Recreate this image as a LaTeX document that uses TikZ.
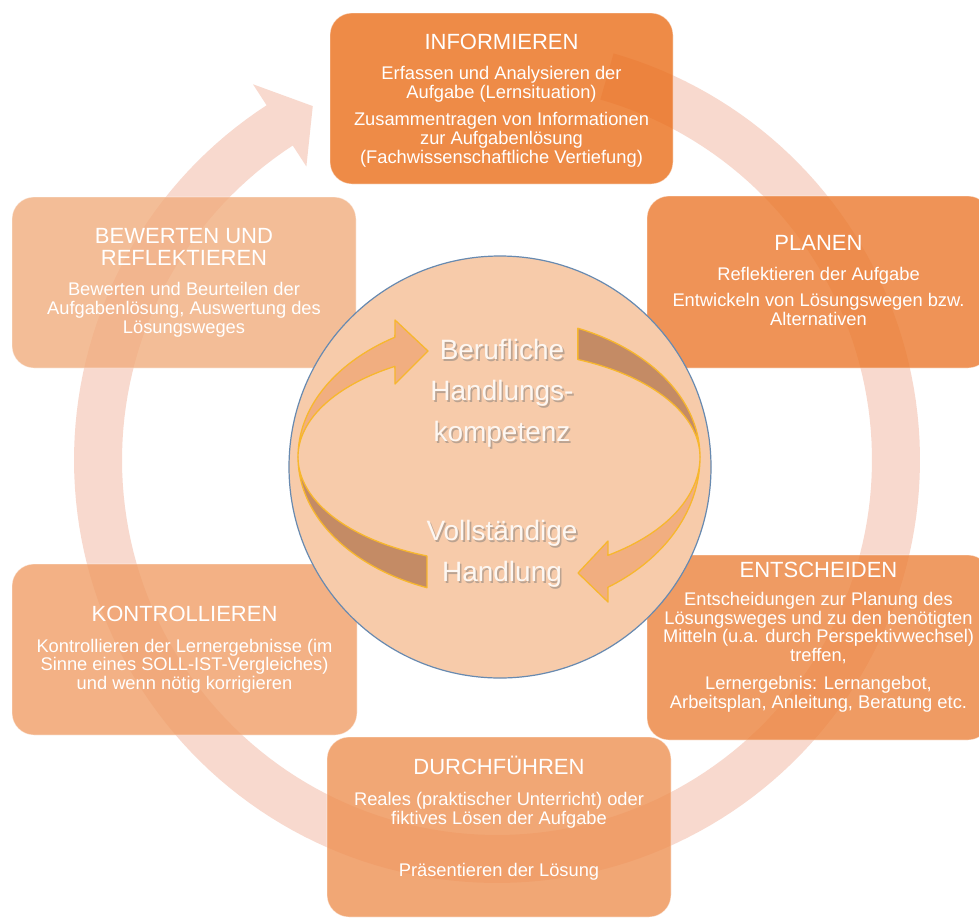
\documentclass[tikz,border=0pt]{standalone}
\usepackage{fontspec}
\setmainfont{Liberation Sans}

% cycle colours (box fills are partly transparent over the ring)
\definecolor{ringc}{RGB}{248,217,206}
\definecolor{cinf}{RGB}{234,110,26}
\definecolor{cpla}{RGB}{235,121,45}
\definecolor{cent}{RGB}{236,131,61}
\definecolor{cdur}{RGB}{238,145,83}
\definecolor{ckon}{RGB}{240,158,103}
\definecolor{cbew}{RGB}{241,173,126}
% centre disc and its twisted ribbon
\definecolor{discfill}{RGB}{247,203,170}
\definecolor{discline}{RGB}{104,138,176}
\definecolor{ribbonfront}{RGB}{241,174,128}
\definecolor{ribbonback}{RGB}{196,139,101}
\definecolor{ribbonedge}{RGB}{247,183,46}
\definecolor{disctext}{RGB}{253,247,242}

\newcommand{\titlefont}{\fontsize{22}{22}\selectfont}

\begin{document}
\begin{tikzpicture}[x=1pt,y=-1pt,
  stage/.style={rounded corners=22pt, fill opacity=0.8, draw=white,
    draw opacity=0.45, line width=0.8pt, inner sep=0pt},
  % multi-line labels are placed by the baseline of their last line
  stagetext/.style={text=white, align=center, anchor=base, inner sep=0pt,
    font=\fontsize{18.3}{18.6}\selectfont},
  ribbon/.style={draw=ribbonedge, line width=1.3pt, line join=round},
  disclabel/.style={text=disctext, align=center, anchor=base, inner sep=0pt},
  discshadow/.style={text=black!55, text opacity=0.45, align=center, anchor=base, inner sep=0pt},
]
\useasboundingbox (0,0) rectangle (979,919);
\fill[white] (0,0) rectangle (979,919);
\clip (0,0) rectangle (979,919);

% large cycle arrow around the stages (clockwise, head at the upper left)
\fill[ringc]
  plot[domain=74:-237, samples=180, variable=\t] ({497+423*cos(\t)},{460-423*sin(\t)})
  -- ({497+448*cos(-237)},{460-448*sin(-237)})
  -- ({497+399*cos(-242.5)},{460-399*sin(-242.5)})
  -- ({497+350*cos(-237)},{460-350*sin(-237)})
  -- plot[domain=-237:74, samples=180, variable=\t] ({497+375*cos(\t)},{460-375*sin(\t)})
  -- cycle;

% the six stages
\node[stage, fill=cinf, minimum width=343pt, minimum height=171pt] (inf) at (501.5,98.5) {};
\node[stage, fill=cpla, minimum width=343pt, minimum height=172pt] (pla) at (818.5,282) {};
\node[stage, fill=cent, minimum width=343pt, minimum height=185pt] (ent) at (818.5,647.5) {};
\node[stage, fill=cdur, minimum width=344pt, minimum height=180pt] (dur) at (499,827) {};
\node[stage, fill=ckon, minimum width=345pt, minimum height=171pt] (kon) at (184.5,649.5) {};
\node[stage, fill=cbew, minimum width=344pt, minimum height=171pt] (bew) at (184,282.5) {};

\node[stagetext] (infT) at (501.5,163) {{\titlefont INFORMIEREN}\\[11.4pt]
  Erfassen und Analysieren der\\ Aufgabe (Lernsituation)\\[9pt]
  Zusammentragen von Informationen\\ zur Aufgabenlösung\\
  (Fachwissenschaftliche Vertiefung)};
\node[stagetext] (plaT) at (818.5,325.5) {{\titlefont PLANEN}\\[11.4pt]
  Reflektieren der Aufgabe\\[8pt]
  Entwickeln von Lösungswegen bzw.\\ Alternativen};
\node[stagetext] (entT) at (818.5,708.3) {{\titlefont ENTSCHEIDEN}\\[9.7pt]
  Entscheidungen zur Planung des\\ Lösungsweges und zu den benötigten\\
  Mitteln (u.a. durch Perspektivwechsel)\\ treffen,\\[9.7pt]
  Lernergebnis: Lernangebot,\\ Arbeitsplan, Anleitung, Beratung etc.};
\node[stagetext] (durT) at (499,876.7) {{\titlefont DURCHFÜHREN}\\[12.4pt]
  Reales (praktischer Unterricht) oder\\ fiktives Lösen der Aufgabe\\[33.8pt]
  Präsentieren der Lösung};
\node[stagetext] (konT) at (184.5,689.3) {{\titlefont KONTROLLIEREN}\\[12.4pt]
  Kontrollieren der Lernergebnisse (im\\ Sinne eines SOLL-IST-Vergleiches)\\
  und wenn nötig korrigieren};
\node[stagetext] (bewT) at (184,333) {{\titlefont BEWERTEN UND}\\[4.1pt]
  {\titlefont REFLEKTIEREN}\\[11.4pt]
  Bewerten und Beurteilen der\\ Aufgabenlösung, Auswertung des\\ Lösungsweges};

% centre disc
\node[circle, fill=discfill, draw=discline, line width=1.2pt, minimum size=422pt, inner sep=0pt]
  (core) at (500,467) {};

% twisted ribbon: back pieces first
\filldraw[ribbon, fill=ribbonback]
  plot[domain=66.9:0, samples=60, variable=\t] ({499+201*cos(\t)},{457-140*sin(\t)})
  -- plot[domain=0:66.9, samples=60, variable=\t] ({499+201*cos(\t)},{457-106*sin(\t)})
  -- cycle;
\filldraw[ribbon, fill=ribbonback]
  plot[domain=-111:-180, samples=60, variable=\t] ({499+201*cos(\t)},{457-140*sin(\t)})
  -- plot[domain=-180:-111, samples=60, variable=\t] ({499+201*cos(\t)},{457-106*sin(\t)})
  -- cycle;
% front pieces with arrow heads
\filldraw[ribbon, fill=ribbonfront]
  plot[domain=180:121.2, samples=60, variable=\t] ({499+201*cos(\t)},{457-140*sin(\t)})
  -- (395,320) -- (428,351) -- (395,384)
  -- plot[domain=121.2:180, samples=60, variable=\t] ({499+201*cos(\t)},{457-106*sin(\t)})
  -- cycle;
\filldraw[ribbon, fill=ribbonfront]
  plot[domain=0:-57.2, samples=60, variable=\t] ({499+201*cos(\t)},{457-155*sin(\t)})
  -- (608,602) -- (578,573) -- (608,541)
  -- plot[domain=-57.2:0, samples=60, variable=\t] ({499+201*cos(\t)},{457-117*sin(\t)})
  -- cycle;

% centre labels with a soft shadow
\begin{scope}[font=\fontsize{28}{41}\selectfont]
\node[discshadow] (t1s) at (503.6,443.3) {Berufliche\\Handlungs-\\kompetenz};
\node[disclabel] (t1) at (502,441.7) {Berufliche\\Handlungs-\\kompetenz};
\node[discshadow] (t2s) at (503.6,583.3) {Vollständige\\Handlung};
\node[disclabel] (t2) at (502,581.7) {Vollständige\\Handlung};
\end{scope}
\end{tikzpicture}
\end{document}
